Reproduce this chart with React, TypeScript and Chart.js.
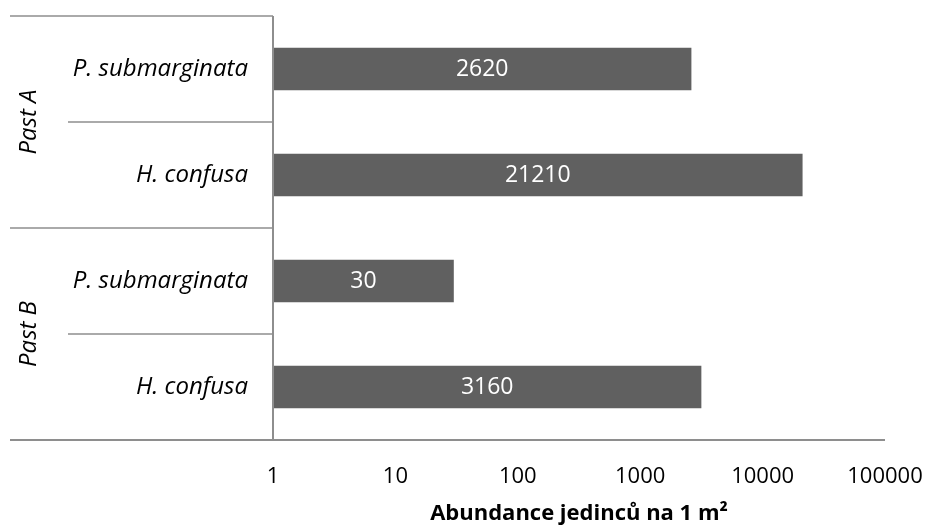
import React, { useEffect, useRef } from "react";
import { Chart, registerables } from "chart.js";

Chart.register(...registerables);

// Rows from top to bottom
const groupNames = ["Past A", "Past B"];
const speciesNames = ["P. submarginata", "H. confusa", "P. submarginata", "H. confusa"];
const rowGroup = [0, 0, 1, 1];
const abundance = [2620, 21210, 30, 3160];
const xTickValues = [1, 10, 100, 1000, 10000, 100000];

const FONT = "'Open Sans', 'DejaVu Sans', sans-serif";
const LINE = "#8e8e8e";

const labelsPlugin = {
  id: "rowLabels",
  afterDraw(chart: any) {
    const { ctx, chartArea } = chart;
    const y = chart.scales.y;
    const n = speciesNames.length;
    const centers = speciesNames.map((_, i) => y.getPixelForValue(i));
    const half = n > 1 ? (centers[1] - centers[0]) / 2 : 50;
    const left = 10;
    const innerLeft = 68;
    const axisX = chartArea.left;

    ctx.save();
    ctx.strokeStyle = LINE;
    ctx.lineWidth = 1.5;
    // horizontal separators in the label area
    const boundaries: { y: number; x0: number }[] = [];
    boundaries.push({ y: centers[0] - half, x0: left });
    for (let i = 0; i < n - 1; i++) {
      const by = (centers[i] + centers[i + 1]) / 2;
      const x0 = rowGroup[i] !== rowGroup[i + 1] ? left : innerLeft;
      boundaries.push({ y: by, x0 });
    }
    boundaries.forEach((b) => {
      ctx.beginPath();
      ctx.moveTo(b.x0, b.y);
      ctx.lineTo(axisX, b.y);
      ctx.stroke();
    });
    // bottom line across the whole width
    ctx.lineWidth = 2;
    ctx.beginPath();
    ctx.moveTo(left, chartArea.bottom);
    ctx.lineTo(chartArea.right, chartArea.bottom);
    ctx.stroke();
    // vertical axis line
    ctx.beginPath();
    ctx.moveTo(axisX, chartArea.top);
    ctx.lineTo(axisX, chartArea.bottom);
    ctx.stroke();

    // species labels
    ctx.fillStyle = "#000";
    ctx.font = `italic 24px ${FONT}`;
    ctx.textAlign = "right";
    ctx.textBaseline = "middle";
    speciesNames.forEach((s, i) => ctx.fillText(s, 248, centers[i]));

    // group labels, rotated
    groupNames.forEach((g, gi) => {
      const rows = rowGroup.map((r, i) => (r === gi ? i : -1)).filter((i) => i >= 0);
      const top = centers[rows[0]] - half;
      const bottom = centers[rows[rows.length - 1]] + half;
      ctx.save();
      ctx.translate(29, (top + bottom) / 2);
      ctx.rotate(-Math.PI / 2);
      ctx.textAlign = "center";
      ctx.textBaseline = "middle";
      ctx.fillText(g, 0, 0);
      ctx.restore();
    });

    // value labels inside bars
    const meta = chart.getDatasetMeta(0);
    ctx.fillStyle = "#ffffff";
    ctx.font = `23px ${FONT}`;
    ctx.textAlign = "center";
    meta.data.forEach((bar: any, i: number) => {
      const cx = (bar.x + bar.base) / 2;
      ctx.fillText(String(abundance[i]), cx, bar.y);
    });
    ctx.restore();
  },
};

export default function App() {
  const canvasRef = useRef<HTMLCanvasElement | null>(null);

  useEffect(() => {
    if (!canvasRef.current) return;
    const chart = new Chart(canvasRef.current, {
      type: "bar",
      data: {
        labels: speciesNames,
        datasets: [
          {
            data: abundance,
            backgroundColor: "#606060",
            borderWidth: 0,
            barPercentage: 0.4,
            categoryPercentage: 1,
          },
        ],
      },
      options: {
        indexAxis: "y",
        responsive: false,
        animation: false,
        layout: { padding: { left: 273, right: 45, top: 16, bottom: 0 } },
        plugins: {
          legend: { display: false },
          tooltip: { enabled: false },
        },
        scales: {
          y: {
            display: false,
          },
          x: {
            type: "logarithmic",
            min: 1,
            max: 100000,
            grid: { display: false, drawTicks: false },
            border: { display: false },
            afterBuildTicks: (scale: any) => {
              scale.ticks = xTickValues.map((v) => ({ value: v }));
            },
            afterFit: (scale: any) => {
              scale.height = 87;
              scale.paddingLeft = 0;
              scale.paddingRight = 0;
            },
            ticks: {
              color: "#000",
              padding: 24,
              autoSkip: false,
              maxRotation: 0,
              font: { family: FONT, size: 22 },
              callback: (v: any) => String(v),
            },
            title: {
              display: true,
              text: "Abundance jedinců na 1 m²",
              color: "#000",
              font: { family: FONT, size: 22, weight: "bold" },
              padding: { top: 0, bottom: 0 },
            },
          },
        },
      },
      plugins: [labelsPlugin],
    });
    return () => chart.destroy();
  }, []);

  return (
    <div style={{ position: "absolute", left: 0, top: 0, width: 930, height: 527, background: "#fff" }}>
      <canvas ref={canvasRef} width={930} height={527} />
    </div>
  );
}
